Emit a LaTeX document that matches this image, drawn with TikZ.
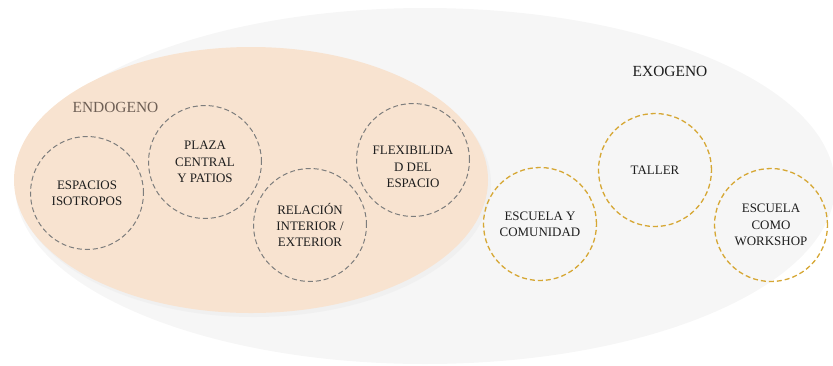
\documentclass[tikz,border=0pt]{standalone}
\usepackage{fontspec}
\setmainfont{Liberation Serif}
\newfontfamily\timesfont{Liberation Serif}
\definecolor{bggrey}{RGB}{246,246,246}
\definecolor{shadowgrey}{RGB}{240,240,240}
\definecolor{peach}{RGB}{248,227,208}
\definecolor{dashgrey}{RGB}{125,125,125}
\definecolor{gold}{RGB}{214,167,52}
\definecolor{endotxt}{RGB}{110,95,85}
\definecolor{txt}{RGB}{30,30,30}
\tikzset{
  cell/.style={circle, minimum size=113bp, inner sep=0pt, line width=1bp,
    dash pattern=on 5bp off 3bp, text=txt, align=center,
    font=\timesfont\fontsize{13}{16.3}\selectfont},
  endocell/.style={cell, draw=dashgrey},
  exocell/.style={cell, draw=gold, line width=1.3bp},
  celltext/.style={text=txt, align=center, font=\timesfont\fontsize{13}{16.3}\selectfont},
  heading/.style={font=\timesfont\fontsize{15.5}{18}\selectfont}
}
\begin{document}
\begin{tikzpicture}[x=1bp,y=-1bp]
\useasboundingbox (0,0) rectangle (833,365);
% outer EXOGENO ellipse
\fill[bggrey] (425,186) ellipse [x radius=410, y radius=178];
% shadow of inner ellipse
\fill[shadowgrey] (254,184) ellipse [x radius=237, y radius=133];
% inner ENDOGENO ellipse
\fill[peach] (251,180) ellipse [x radius=237, y radius=133];

\node[heading, text=endotxt] (endo) at (115.5,107) {ENDOGENO};
\node[heading, text=txt] (exo) at (670,71) {EXOGENO};

\node[endocell] (esp) at (87,193) {ESPACIOS\\ISOTROPOS};
\node[endocell] (plaza) at (205,162) {PLAZA\\CENTRAL\\Y PATIOS};
\node[endocell] (rel) at (310,225) {RELACIÓN\\INTERIOR /\\EXTERIOR};
\node[endocell] (flex) at (413,160) {};
\node[celltext] (flextxt) at (413,167) {FLEXIBILIDA\\D DEL\\ESPACIO};

\node[exocell] (com) at (540,224) {ESCUELA  Y\\COMUNIDAD};
\node[exocell] (taller) at (655,170) {TALLER};
\node[exocell] (work) at (771,225) {ESCUELA\\COMO\\WORKSHOP};
\end{tikzpicture}
\end{document}
